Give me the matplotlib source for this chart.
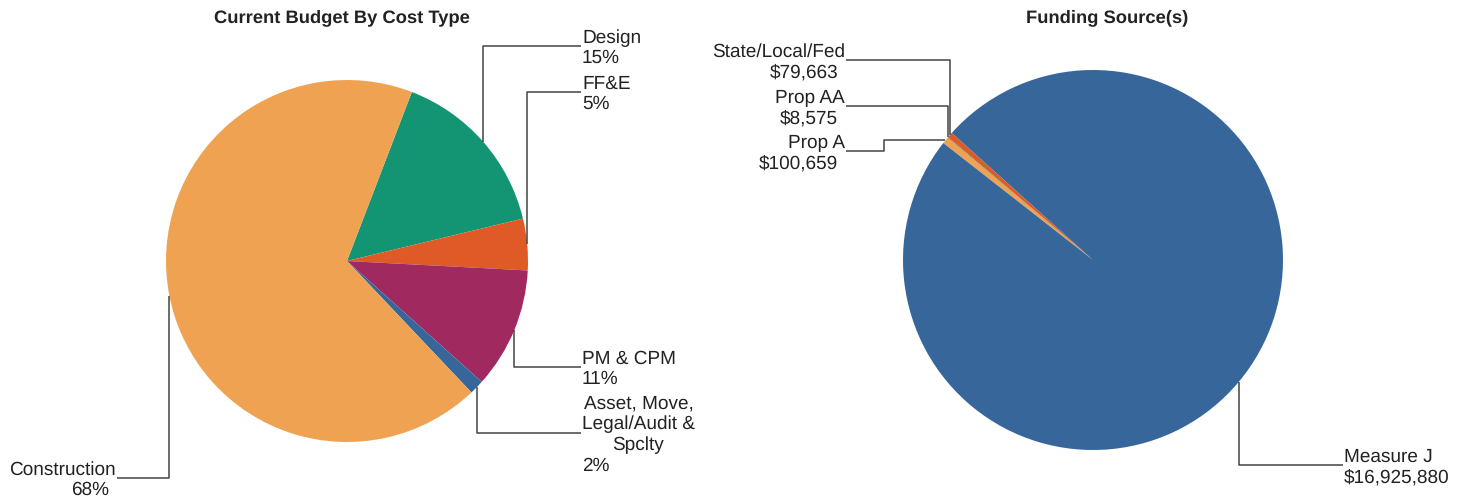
import matplotlib.pyplot as plt
import numpy as np

plt.rcParams['font.family'] = ['Liberation Sans', 'DejaVu Sans']
plt.rcParams['text.hinting'] = 'no_hinting'

W, H = 1462, 500

# left pie: current budget by cost type (percent of total)
cost_types = ['Design', 'FF&E', 'PM & CPM', 'Asset, Move,\nLegal/Audit &\nSpclty', 'Construction']
cost_values = [15.4, 4.6, 10.8, 1.3, 67.9]
cost_pct = ['15%', '5%', '11%', '2%', '68%']
cost_colors = ['#139574', '#E05A27', '#A0295F', '#37679A', '#EFA352']

# right pie: funding sources (dollars)
sources = ['Prop A', 'Prop AA', 'State/Local/Fed', 'Measure J']
source_values = [100659, 8575, 79663, 16925880]
source_amounts = ['$100,659', '$8,575', '$79,663', '$16,925,880']
source_colors = ['#EFA352', '#139574', '#E05A27', '#37679A']

FS = 13.7
LH = 20.5  # baseline to baseline, px

fig = plt.figure(figsize=(W / 100, H / 100), dpi=100)
ax = fig.add_axes([0, 0, 1, 1])


def leaders(wedges, center, r, names, values, ends, elbows, right_side):
    # ends: (x, y) where the horizontal leader ends, image pixels (y down)
    for w, name, val, (lx, ly), ex in zip(wedges, names, values, ends, elbows):
        a = np.deg2rad((w.theta1 + w.theta2) / 2)
        px = center[0] + r * np.cos(a)
        py = center[1] + r * np.sin(a)
        if ex is None:
            ex = px
        ax.plot([px, ex, ex, lx], [py, py, H - ly, H - ly], color='#444444',
                lw=1.1, solid_capstyle='butt')
        n = name.count('\n') + 2
        base = [ly + 7 + (i - (n - 1) / 2) * LH for i in range(n)]
        if right_side:
            ax.text(lx + 1, H - base[-2], name, ha='left', va='baseline',
                    fontsize=FS, multialignment='center', color='#222222',
                    linespacing=1.22)
            ax.text(lx + 1, H - base[-1], val, ha='left', va='baseline',
                    fontsize=FS, color='#222222')
        else:
            ax.text(lx - 1, H - base[-2], name, ha='right', va='baseline',
                    fontsize=FS, multialignment='right', color='#222222',
                    linespacing=1.22)
            ax.text(lx - 8, H - base[-1], val, ha='right', va='baseline',
                    fontsize=FS, color='#222222')


c1 = (347, H - 261)
w1, _ = ax.pie(cost_values, colors=cost_colors, center=c1, radius=181,
               startangle=69, counterclock=False, wedgeprops=dict(linewidth=0),
               frame=True)
leaders(w1[:4], c1, 181, cost_types[:4], cost_pct[:4],
        [(581, 46), (581, 92), (581, 367), (581, 433)], [None] * 4, True)
leaders(w1[4:], c1, 181, cost_types[4:], cost_pct[4:], [(117, 478)], [None], False)

c2 = (1093, H - 260)
w2, _ = ax.pie(source_values, colors=source_colors, center=c2, radius=190,
               startangle=142, counterclock=False, wedgeprops=dict(linewidth=0),
               frame=True)
leaders(w2[:3], c2, 190, sources[:3], source_amounts[:3],
        [(846, 151), (846, 106), (846, 60)], [884, None, None], False)
leaders(w2[3:], c2, 190, sources[3:], source_amounts[3:], [(1343, 465)], [None], True)

ax.set_xlim(0, W)
ax.set_ylim(0, H)
ax.set_aspect('equal')
ax.axis('off')

ax.text(342, H - 18, 'Current Budget By Cost Type', ha='center', va='center',
        fontsize=13.2, fontweight='bold', color='#222222')
ax.text(1107, H - 18, 'Funding Source(s)', ha='center', va='center',
        fontsize=13.2, fontweight='bold', color='#222222')

fig.savefig('out.png', dpi=100)
